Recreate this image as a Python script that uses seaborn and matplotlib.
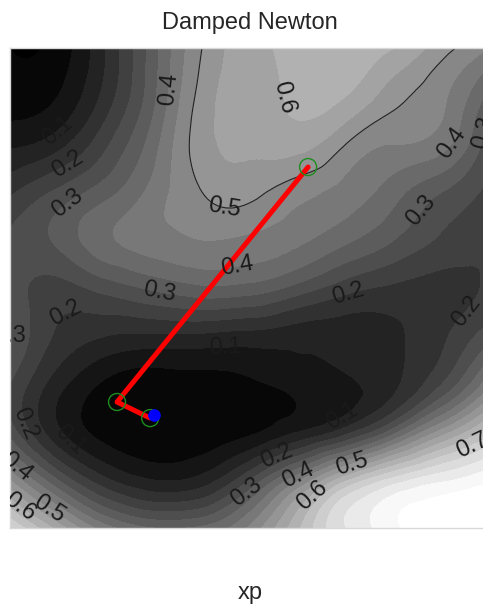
import numpy as np
import matplotlib
matplotlib.use("Agg")
import matplotlib.pyplot as plt
import matplotlib.tri as mtri
import seaborn as sns

# grid nodes in axes units (0..1), rows listed top to bottom
grid_x = [0.0, 0.1, 0.2, 0.3, 0.4, 0.5, 0.6, 0.7, 0.8, 0.9, 1.0]
grid_y = [1.0, 0.9, 0.8, 0.7, 0.6, 0.5, 0.4, 0.3, 0.2, 0.1, 0.0]

# objective value at each node
field_rows = [
    [0.00, 0.02, 0.15, 0.33, 0.50, 0.58, 0.62, 0.63, 0.60, 0.52, 0.45],
    [0.02, 0.05, 0.17, 0.34, 0.52, 0.58, 0.61, 0.60, 0.52, 0.46, 0.33],
    [0.09, 0.13, 0.24, 0.38, 0.53, 0.56, 0.57, 0.50, 0.45, 0.42, 0.26],
    [0.19, 0.26, 0.33, 0.42, 0.50, 0.515, 0.47, 0.43, 0.37, 0.30, 0.24],
    [0.26, 0.31, 0.39, 0.43, 0.45, 0.44, 0.41, 0.36, 0.30, 0.24, 0.21],
    [0.27, 0.23, 0.27, 0.31, 0.34, 0.33, 0.28, 0.22, 0.19, 0.18, 0.21],
    [0.30, 0.19, 0.15, 0.14, 0.14, 0.13, 0.12, 0.12, 0.14, 0.19, 0.28],
    [0.25, 0.12, 0.04, 0.02, 0.03, 0.04, 0.07, 0.09, 0.14, 0.25, 0.44],
    [0.28, 0.11, 0.03, 0.01, 0.02, 0.04, 0.10, 0.18, 0.33, 0.52, 0.68],
    [0.50, 0.30, 0.16, 0.10, 0.12, 0.25, 0.44, 0.64, 0.77, 0.84, 0.89],
    [0.75, 0.58, 0.42, 0.35, 0.36, 0.46, 0.64, 0.80, 0.89, 0.94, 0.98],
]

# damped Newton iterates and the final point
iter_x = [0.621, 0.223, 0.292]
iter_y = [0.752, 0.2625, 0.229]
final_x = [0.300]
final_y = [0.236]

# contour labels: level -> approximate spots (pixel coords in the reference)
label_spots = {
    0.1: [(55, 127), (225, 350), (336, 407), (63, 447)],
    0.2: [(67, 163), (60, 295), (345, 285), (280, 463), (27, 423), (478, 320)],
    0.3: [(67, 203), (160, 290), (420, 210), (15, 345), (243, 487), (473, 130)],
    0.4: [(175, 90), (235, 255), (300, 480), (20, 463), (466, 153)],
    0.5: [(225, 205), (57, 497), (353, 467)],
    0.6: [(280, 98), (30, 493), (316, 500)],
    0.7: [(473, 447)],
}


def px_to_data(px, py):
    return ((px - 10) / 480.0, (528 - py) / 480.0)


sns.set_theme(style="white")
plt.rcParams["font.family"] = ["Liberation Sans", "DejaVu Sans"]

fig = plt.figure(figsize=(4.83, 6.06), dpi=100)
ax = fig.add_axes([10 / 483, 78 / 606, 480 / 483, 480 / 606])

X, Y = np.meshgrid(grid_x, grid_y)
Z = np.array(field_rows)

# smooth the coarse grid with matplotlib's own triangulation refiner
tri_base = mtri.Triangulation(X.ravel(), Y.ravel())
refiner = mtri.UniformTriRefiner(tri_base)
tri_fine, z_fine = refiner.refine_field(Z.ravel(), subdiv=3)

ax.tricontourf(tri_fine, z_fine, levels=np.arange(-0.05, 1.06, 0.05),
               cmap="gray", vmin=0.0, vmax=0.9, extend="both")

# labelled contours with hidden lines
for lev, spots in label_spots.items():
    cs = ax.tricontour(tri_fine, z_fine, levels=[lev], colors="none")
    pts = [px_to_data(px, py) for px, py in spots]
    ax.clabel(cs, fmt="%.1f", manual=pts, inline=False, fontsize=17, colors="k")

# the thin black 0.5 contour in the upper half only
cy = tri_fine.y[tri_fine.triangles].mean(axis=1)
tri_top = mtri.Triangulation(tri_fine.x, tri_fine.y, tri_fine.triangles, mask=cy < 0.45)
ax.tricontour(tri_top, z_fine, levels=[0.5], colors="#222222", linewidths=0.8)

# Newton path
path_x = iter_x + final_x
path_y = iter_y + final_y
sns.lineplot(x=path_x, y=path_y, sort=False, color="red", linewidth=3.6, ax=ax)
sns.scatterplot(x=iter_x, y=iter_y, marker="o", s=150, facecolors="none",
                edgecolors="#1e8c1e", linewidth=1.0, ax=ax, zorder=3)
sns.scatterplot(x=final_x, y=final_y, color="blue", s=70, edgecolor="blue", ax=ax, zorder=4)

ax.set_xlim(0, 1)
ax.set_ylim(0, 1)
ax.set_xticks([])
ax.set_yticks([])
for sp in ax.spines.values():
    sp.set_color("#d8d8d8")
    sp.set_linewidth(1.0)

ax.set_title("Damped Newton", fontsize=17, pad=14)
ax.set_xlabel("xp", fontsize=17, labelpad=39)

fig.savefig("out.png", dpi=100)
